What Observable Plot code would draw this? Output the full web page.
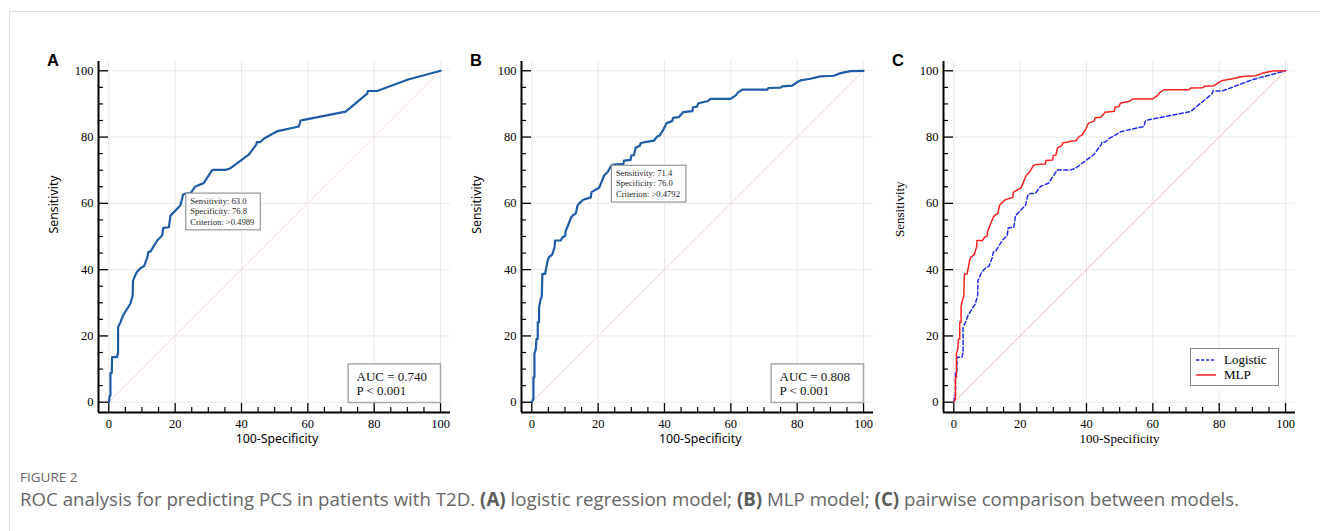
<!DOCTYPE html>
<html>
<head>
<meta charset="utf-8">
<script src="https://cdn.jsdelivr.net/npm/d3@7"></script>
<script src="https://cdn.jsdelivr.net/npm/@observablehq/plot@0.6"></script>
<style>
  html, body { margin: 0; padding: 0; background: #fff; }
  body { width: 1320px; height: 531px; overflow: hidden; position: relative; }
  .card { position: absolute; left: 9px; top: 11px; width: 1400px; height: 600px; border: 1px solid #dcdcdc; box-sizing: border-box; }
  .panel { position: absolute; top: 20px; }
  .panel svg { overflow: visible; }
  .legend { position: absolute; left: 1190px; top: 348px; width: 89px; height: 38px; border: 1px solid #8a8a8a; box-sizing: border-box; background: #fff;
            font-family: "Liberation Serif", "Times New Roman", serif; font-size: 13px; color: #000; }
  .legend .row { position: absolute; left: 5px; height: 15px; display: flex; align-items: center; }
  .legend .row svg { width: 20px; height: 4px; margin-right: 8px; }
  .caption-head { position: absolute; left: 20px; top: 468.6px; font-family: "Open Sans", sans-serif; font-size: 13.5px; line-height: 16px; color: #666; }
  .caption { position: absolute; left: 20px; top: 487.7px; font-family: "Open Sans", sans-serif; font-size: 18.7px; line-height: 22px; color: #666; white-space: nowrap; }
  .caption b { font-weight: 700; color: #5a5a5a; }
</style>
</head>
<body>
<div class="card"></div>
<div id="panelA" class="panel" style="left:40px"></div>
<div id="panelB" class="panel" style="left:463px"></div>
<div id="panelC" class="panel" style="left:885px"></div>
<div class="legend">
  <div class="row" style="top:3px"><svg><line x1="0" y1="2" x2="20" y2="2" stroke="#1f2cf0" stroke-width="1.5" stroke-dasharray="3.2,1.8"/></svg><span id="legA"></span></div>
  <div class="row" style="top:18px"><svg><line x1="0" y1="2" x2="20" y2="2" stroke="#ff1f1f" stroke-width="1.5"/></svg><span id="legB"></span></div>
</div>
<div class="caption-head">FIGURE 2</div>
<div class="caption">ROC analysis for predicting PCS in patients with T2D. <b>(A)</b> logistic regression model; <b>(B)</b> MLP model; <b>(C)</b> pairwise comparison between models.</div>

<script>
// ---------------- data ----------------
const seriesNames = ["Logistic", "MLP"];
const panelLetters = ["A", "B", "C"];
const xLabel = "100-Specificity";
const yLabel = "Sensitivity";
const majorTicks = [0, 20, 40, 60, 80, 100];
const minorTicks = [5, 10, 15, 25, 30, 35, 45, 50, 55, 65, 70, 75, 85, 90, 95];
const chanceLine = [0, 100];

// [100-Specificity, Sensitivity]
const logisticRoc = [
  [0, 0], [0.3, 2], [0.5, 2], [0.5, 8.8], [0.9, 8.8], [1.0, 13.6], [2.5, 13.6], [2.8, 15], [2.8, 22.6],
  [3.5, 24.1], [4.3, 26.2], [6.5, 29.7], [7.2, 32.2], [7.3, 36.7], [8.4, 39.2], [9.6, 40.5], [10.6, 41],
  [11.6, 43.6], [11.9, 45.3], [12.6, 45.5], [14.6, 48.8], [16.1, 50.3], [16.4, 52.6], [18.1, 52.8],
  [18.6, 56.3], [21.6, 59.4], [22.4, 62.7], [23.2, 63.0], [24.6, 63.0], [26.1, 65.1], [28.6, 66.1],
  [31.2, 70.1], [35.2, 70.1], [36.7, 70.6], [42.2, 74.7], [44.5, 77.8], [44.6, 78.5], [45.7, 78.5],
  [46.7, 79.5], [50.6, 81.7], [57.3, 83.2], [57.8, 85.0], [58.8, 85.2], [71.4, 87.7], [77.9, 93.1],
  [78.1, 93.9], [80.9, 93.9], [90, 97.3], [100, 100]
];
const mlpRoc = [
  [0, 0], [0.5, 1], [0.5, 7.5], [0.8, 7.5], [0.8, 14.8], [1.2, 15.8], [1.4, 19.1], [1.8, 19.1], [1.8, 24.1],
  [2.2, 24.1], [2.2, 28.7], [2.7, 31.2], [3.0, 31.7], [3.2, 38.7], [4.0, 38.7], [4.4, 40.7], [4.8, 42.8],
  [5.2, 43.8], [6.2, 44.6], [6.9, 47], [7.0, 48.8], [8.7, 48.8], [9.3, 49.8], [10.1, 50.2], [10.2, 51.6],
  [10.7, 52.8], [11.8, 55.6], [12.3, 56.3], [13.3, 57], [13.8, 59.4], [14.3, 60], [15.5, 61.1], [17.8, 61.8],
  [18.0, 63.4], [20.3, 64.7], [21.0, 66.4], [21.8, 68.4], [22.8, 69.4], [24.0, 71.4], [24.7, 71.7],
  [27.6, 71.9], [27.8, 72.9], [29.8, 73.1], [30.0, 74.4], [30.8, 74.6], [31.3, 76.8], [32.6, 77.4],
  [32.8, 78.2], [35.8, 78.8], [36.8, 78.9], [37.8, 80.2], [38.6, 80.5], [39.8, 82.5], [40.6, 84.2],
  [42.3, 84.8], [42.6, 85.8], [44.3, 86.0], [45.6, 87.5], [48.4, 87.8], [48.6, 89], [49.8, 89.2],
  [50.2, 90.2], [52.9, 90.8], [53.9, 91.5], [59.9, 91.5], [61.4, 92.5], [62.2, 93.5], [63.4, 94.3],
  [71, 94.3], [71.3, 94.8], [75, 94.9], [75.5, 95.3], [78.5, 95.5], [80, 96.6], [81, 97.1], [84, 97.6],
  [87, 98.3], [91, 98.5], [93.1, 99.3], [96.1, 99.9], [100, 100]
];
const criterionA = {sensitivity: 63.0, specificity: 76.8, criterion: ">0.4989"};
const criterionB = {sensitivity: 71.4, specificity: 76.0, criterion: ">0.4792"};
const aucValues = ["0.740", "0.808"];
const pValues = ["< 0.001", "< 0.001"];

// ---------------- layout / style ----------------
const xDomain = [-3.1, 103.0];
const yDomain = [-3.1, 102.8];
const FW = 352, FH = 351;
const ML = 58, MT = 41, MR = 12, MB = 50;
const SERIF = "Liberation Serif, Times New Roman, serif";
const SANS = "Noto Sans, DejaVu Sans, sans-serif";
const rocBlue = "#1f5ca8";
const gridColor = "#e9e9e9";

function frameMarks() {
  return [
    Plot.gridX(majorTicks, {stroke: gridColor, strokeOpacity: 1, strokeWidth: 1}),
    Plot.gridY(majorTicks, {stroke: gridColor, strokeOpacity: 1, strokeWidth: 1})
  ];
}
function axisMarks({labelFont, labelSize, xdx, ydy, ydx}) {
  return [
    Plot.ruleX([xDomain[0]], {stroke: "#000", strokeWidth: 2}),
    Plot.ruleY([yDomain[0]], {stroke: "#000", strokeWidth: 2.2}),
    Plot.ruleY(minorTicks, {y: d => d, stroke: "#000", strokeWidth: 1.2, insetRight: FW - 5}),
    Plot.ruleY(majorTicks, {y: d => d, stroke: "#000", strokeWidth: 1.3, insetRight: FW - 10}),
    Plot.ruleX(minorTicks, {x: d => d, stroke: "#000", strokeWidth: 1.2, insetTop: FH - 5}),
    Plot.ruleX(majorTicks, {x: d => d, stroke: "#000", strokeWidth: 1.3, insetTop: FH - 9}),
    Plot.axisX({ticks: majorTicks, tickSize: 0, tickPadding: 6.5, fontFamily: SERIF, fontSize: 12.5, fill: "#000"}),
    Plot.axisY({ticks: majorTicks, tickSize: 0, tickPadding: 5, fontFamily: SERIF, fontSize: 12.5, fill: "#000"}),
    Plot.text([xLabel], {frameAnchor: "bottom", dx: xdx, dy: 30, fontFamily: labelFont, fontSize: labelSize, fill: "#000"}),
    Plot.text([yLabel], {frameAnchor: "left", rotate: -90, dx: ydx, dy: ydy, fontFamily: labelFont, fontSize: labelSize, fill: "#000"})
  ];
}
function letterMark(letter) {
  return Plot.text([letter], {frameAnchor: "top-left", dx: -45.5, dy: -7.5, textAnchor: "middle",
    fontFamily: "Liberation Sans, Arial, sans-serif", fontWeight: "bold", fontSize: 16.5, fill: "#000"});
}
function criterionMark(c) {
  return Plot.text([c], {
    x: d => 100 - d.specificity, y: d => d.sensitivity,
    text: d => `Sensitivity: ${d.sensitivity.toFixed(1)}\nSpecificity: ${d.specificity.toFixed(1)}\nCriterion: ${d.criterion}`,
    textAnchor: "start", lineAnchor: "top", lineHeight: 1.2, dx: 4.5, dy: 3.25,
    fontFamily: SERIF, fontSize: 8.6, fill: "#222",
    ariaDescription: "criterion box", ariaLabel: () => "criterion box"
  });
}
function aucMark(i) {
  return Plot.text([i], {
    text: k => `AUC = ${aucValues[k]}\nP ${pValues[k]}`,
    frameAnchor: "bottom-right", textAnchor: "start", lineAnchor: "bottom", lineHeight: 1.1,
    dx: -94, dy: -17.5, fontFamily: SERIF, fontSize: 13, fill: "#111",
    ariaDescription: "auc box", ariaLabel: () => "auc box"
  });
}
function basePlot(marks) {
  return Plot.plot({
    width: ML + FW + MR, height: MT + FH + MB,
    marginLeft: ML, marginTop: MT, marginRight: MR, marginBottom: MB,
    x: {domain: xDomain, axis: null},
    y: {domain: yDomain, axis: null},
    style: {background: "transparent", fontFamily: SERIF, overflow: "visible"},
    marks
  });
}

const ptX = d => d[0], ptY = d => d[1];

const plotA = basePlot([
  ...frameMarks(),
  Plot.line(chanceLine, {x: d => d, y: d => d, stroke: "#f2d6d6", strokeWidth: 1}),
  Plot.line(logisticRoc, {x: ptX, y: ptY, stroke: rocBlue, strokeWidth: 2.2, strokeLinejoin: "round"}),
  ...axisMarks({labelFont: SANS, labelSize: 12.3, xdx: 2.5, ydx: -44.7, ydy: -3.5}),
  criterionMark(criterionA),
  aucMark(0),
  letterMark(panelLetters[0])
]);
const plotB = basePlot([
  ...frameMarks(),
  Plot.line(chanceLine, {x: d => d, y: d => d, stroke: "#f2d6d6", strokeWidth: 1}),
  Plot.line(mlpRoc, {x: ptX, y: ptY, stroke: rocBlue, strokeWidth: 2.2, strokeLinejoin: "round"}),
  ...axisMarks({labelFont: SANS, labelSize: 12.3, xdx: 2.7, ydx: -44.3, ydy: -3.2}),
  criterionMark(criterionB),
  aucMark(1),
  letterMark(panelLetters[1])
]);
const plotC = basePlot([
  ...frameMarks(),
  Plot.line(chanceLine, {x: d => d, y: d => d, stroke: "#eda3a3", strokeWidth: 1, strokeDasharray: "1,1.5"}),
  Plot.line(logisticRoc, {x: ptX, y: ptY, stroke: "#1f2cf0", strokeWidth: 1.5, strokeDasharray: "4,2.5"}),
  Plot.line(mlpRoc, {x: ptX, y: ptY, stroke: "#ff1f1f", strokeWidth: 1.5}),
  ...axisMarks({labelFont: SERIF, labelSize: 13, xdx: 0, ydx: -43.3, ydy: 0}),
  letterMark(panelLetters[2])
]);

document.getElementById("panelA").append(plotA);
document.getElementById("panelB").append(plotB);
document.getElementById("panelC").append(plotC);
document.getElementById("legA").textContent = seriesNames[0];
document.getElementById("legB").textContent = seriesNames[1];

// boxes around the annotation texts, sized from the rendered text
const PADS = {
  "criterion box": {l: 4.5, t: 2.9, r: 6, b: 3.2, w: null, stroke: "#8c8c8c", sw: 1.1},
  "auc box": {l: 8.3, t: 4.8, r: 14, b: 4.5, w: 92.3, stroke: "#a9a9a9", sw: 1.5}
};
for (const svg of [plotA, plotB]) {
  for (const [label, p] of Object.entries(PADS)) {
    const texts = new Set();
    svg.querySelectorAll(`[aria-label="${label}"], [aria-description="${label}"]`).forEach(el => {
      if (el.tagName.toLowerCase() === "text") texts.add(el);
      else el.querySelectorAll("text").forEach(t => texts.add(t));
    });
    texts.forEach(t => {
      const bb = t.getBBox();
      const r = document.createElementNS("http://www.w3.org/2000/svg", "rect");
      r.setAttribute("x", bb.x - p.l);
      r.setAttribute("y", bb.y - p.t);
      r.setAttribute("width", p.w != null ? p.w : bb.width + p.l + p.r);
      r.setAttribute("height", bb.height + p.t + p.b);
      if (t.getAttribute("transform")) r.setAttribute("transform", t.getAttribute("transform"));
      r.setAttribute("fill", "#fff");
      r.setAttribute("stroke", p.stroke);
      r.setAttribute("stroke-width", p.sw);
      t.parentNode.insertBefore(r, t);
    });
  }
}
</script>
</body>
</html>
